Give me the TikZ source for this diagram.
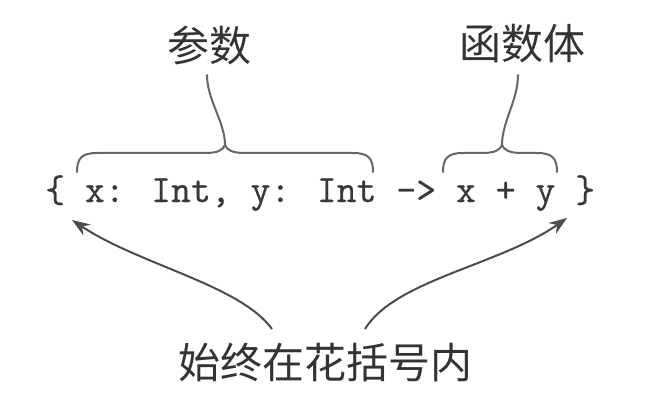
\documentclass[tikz,border=0pt]{standalone}
\usepackage{fontspec}
\newfontfamily\codefont[FakeBold=0.6]{Latin Modern Mono}
\newfontfamily\cjk{Noto Sans CJK SC}
\usetikzlibrary{arrows.meta}
\begin{document}
\begin{tikzpicture}[x=1pt,y=-1pt,
 lbl/.style={font=\cjk\fontsize{42}{42}\selectfont, text=black!80, inner sep=0},
 codestyle/.style={font=\codefont\fontsize{38.6}{39}\selectfont, text=black!78, inner sep=0, anchor=base west},
 bracestyle/.style={draw=black!60, line width=2pt, line cap=round, line join=round},
 arr/.style={draw=black!70, line width=2pt, -{Stealth[length=18pt,width=13pt]}}]
\useasboundingbox (0,0) rectangle (668,406);
\fill[white] (0,0) rectangle (668,406);
\node[codestyle] (code) at (45,202) {\{ x: Int, y: Int -> x + y \}};
\node[lbl] (p) at (209,45) {参数};
\node[lbl] (b) at (522,44) {函数体};
\node[lbl] (a) at (325,363) {始终在花括号内};
% coordinates
\coordinate (tipP) at (225,145);
\coordinate (topP) at (207,75);
\coordinate (tipB) at (502,145);
\coordinate (topB) at (518,75);
\coordinate (sL) at (272,329);
\coordinate (eL) at (72,220);
\coordinate (sR) at (365,329);
\coordinate (eR) at (567,218);
% left brace
\draw[bracestyle] (77,172) .. controls (77,158) and (82,153) .. (97,153) -- (205,153)
  .. controls (218,153) and (223,150) .. (tipP)
  .. controls (227,150) and (232,153) .. (245,153) -- (353,153)
  .. controls (368,153) and (373,158) .. (373,172);
\draw[bracestyle] (tipP) .. controls (225,122) and (207,100) .. (topP);
% right brace
\draw[bracestyle] (443,172) .. controls (443,158) and (448,153) .. (463,153) -- (482,153)
  .. controls (495,153) and (500,150) .. (tipB)
  .. controls (504,150) and (509,153) .. (522,153) -- (537,153)
  .. controls (552,153) and (557,158) .. (557,172);
\draw[bracestyle] (tipB) .. controls (502,122) and (518,100) .. (topB);
% arrows
\draw[arr] (sL) .. controls (240,285) and (140,265) .. (eL);
\draw[arr] (sR) .. controls (395,280) and (500,265) .. (eR);
\end{tikzpicture}
\end{document}
